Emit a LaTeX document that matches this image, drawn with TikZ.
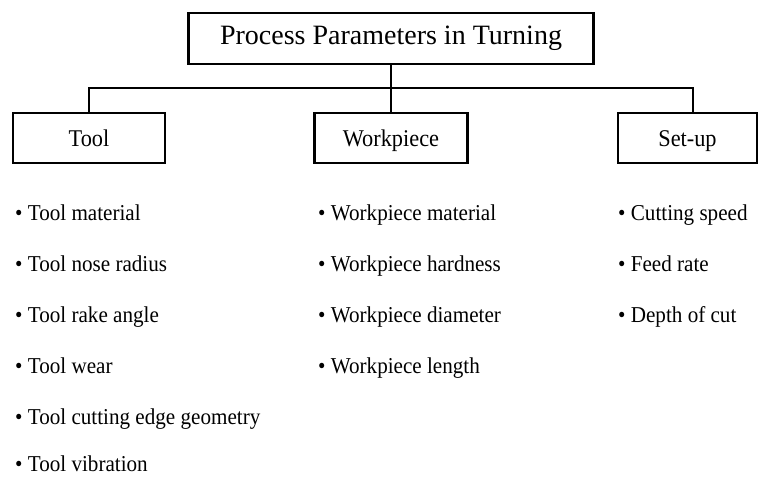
\documentclass[tikz,border=0pt]{standalone}
\usepackage{fontspec}
\setmainfont{Liberation Serif}
\newfontfamily\tallserif[FakeStretch=0.93]{Liberation Serif}
\begin{document}
\begin{tikzpicture}[x=1pt,y=-1pt,
  box/.style={draw, line width=2.6pt, inner sep=0pt, minimum height=50pt},
  conn/.style={line width=2.6pt},
  item/.style={anchor=base west, inner sep=0pt, text depth=0pt, font=\tallserif\fontsize{22.7}{27}\selectfont},
  lab/.style={font=\tallserif\fontsize{24}{28}\selectfont, text height=22pt, text depth=4.6pt}]
\useasboundingbox (0,0) rectangle (759,477);
\node[box, minimum width=405pt, minimum height=51pt, font=\fontsize{28}{32}\selectfont] (top) at (391,38.5) {Process Parameters in Turning};
\node[box, lab, minimum width=152pt] (tool) at (89,138) {Tool};
\node[box, lab, minimum width=153pt] (work) at (391,138) {Workpiece};
\node[box, lab, minimum width=139pt] (setup) at (687.5,138) {Set-up};
\coordinate (hub) at (391,88);
\coordinate (sj) at (693,113);
\draw[conn] (top.south) -- (hub);
\draw[conn] (hub) -- (work.north);
\draw[conn] (tool.north) |- (hub);
\draw[conn] (sj) |- (hub);
% Tool items
\node[item] (t1) at (15,220) {\textbullet\ Tool material};
\node[item] (t2) at (15,271) {\textbullet\ Tool nose radius};
\node[item] (t3) at (15,322) {\textbullet\ Tool rake angle};
\node[item] (t4) at (15,373) {\textbullet\ Tool wear};
\node[item] (t5) at (15,424) {\textbullet\ Tool cutting edge geometry};
\node[item] (t6) at (15,471) {\textbullet\ Tool vibration};
% Workpiece items
\node[item] (w1) at (318,220) {\textbullet\ Workpiece material};
\node[item] (w2) at (318,271) {\textbullet\ Workpiece hardness};
\node[item] (w3) at (318,322) {\textbullet\ Workpiece diameter};
\node[item] (w4) at (318,373) {\textbullet\ Workpiece length};
% Set-up items
\node[item] (s1) at (618,220) {\textbullet\ Cutting speed};
\node[item] (s2) at (618,271) {\textbullet\ Feed rate};
\node[item] (s3) at (618,322) {\textbullet\ Depth of cut};
\end{tikzpicture}
\end{document}
